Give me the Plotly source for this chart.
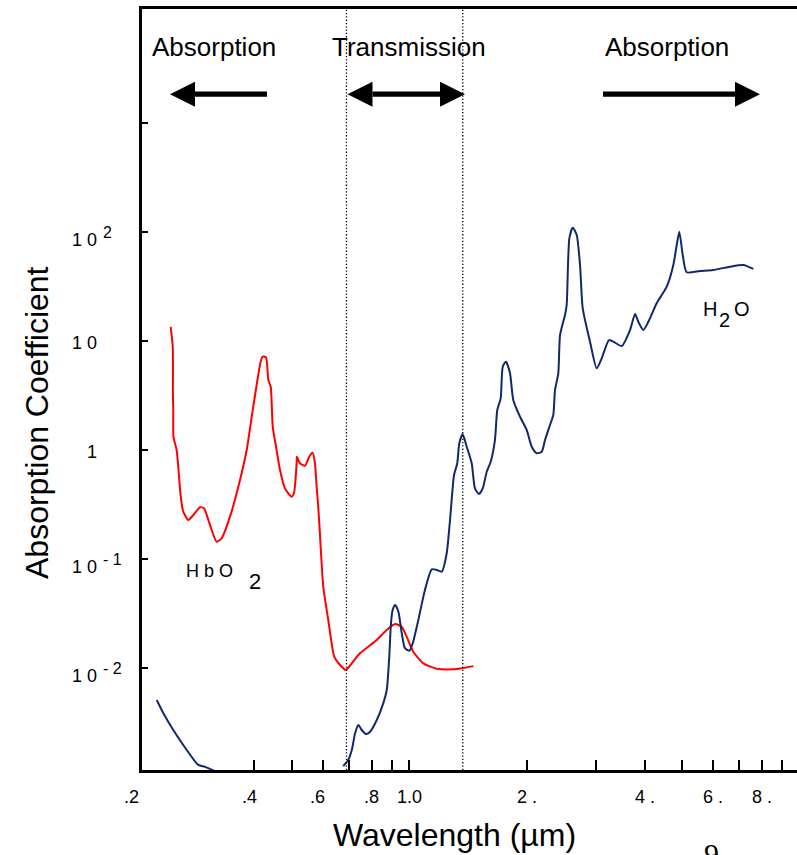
import numpy as np
import plotly.graph_objects as go

# ---------------- data ----------------
hbo2_wavelength = [0.2447, 0.2477, 0.248, 0.2485, 0.2488, 0.2535, 0.2559, 0.2597, 0.2636, 0.2715,
                   0.2797, 0.2910, 0.2979, 0.3055, 0.3117, 0.3210, 0.3306, 0.3472, 0.3683, 0.3831,
                   0.3982, 0.4160, 0.4210, 0.4293, 0.4352, 0.4414, 0.4467, 0.4555, 0.4663, 0.4801,
                   0.4994, 0.5062, 0.5143, 0.5150, 0.5244, 0.5402, 0.5540, 0.5652, 0.5730, 0.5787,
                   0.5842, 0.5902, 0.6018, 0.6198, 0.6421, 0.6641, 0.6882, 0.7117, 0.7474, 0.8246,
                   0.8747, 0.9186, 0.9556, 0.984, 1.023, 1.085, 1.175, 1.296, 1.361, 1.458]
hbo2_absorption = [13.5, 8.87, 3.1, 2.33, 1.32, 1.0, 0.703, 0.373, 0.272, 0.228,
                   0.253, 0.298, 0.292, 0.228, 0.1845, 0.144, 0.155, 0.2445, 0.531, 1.0,
                   2.50, 6.46, 7.18, 7.09, 4.39, 3.81, 1.64, 1.07, 0.656, 0.445,
                   0.373, 0.401, 0.755, 0.868, 0.755, 0.718, 0.868, 0.944, 0.755, 0.461,
                   0.302, 0.166, 0.0557, 0.0275, 0.0127, 0.01066, 0.0096, 0.01104, 0.01364, 0.01807,
                   0.0223, 0.0253, 0.0239, 0.0194, 0.0141, 0.01104, 0.00986, 0.00973, 0.00994, 0.0104]

water_uv_wavelength = [0.2254, 0.2344, 0.2485, 0.2690, 0.2880, 0.2996, 0.3178]
water_uv_absorption = [0.00508, 0.00384, 0.0027, 0.00177, 0.00129, 0.00124, 0.00113]

water_wavelength = [0.677, 0.697, 0.712, 0.726, 0.740, 0.755, 0.774, 0.793, 0.825, 0.857,
                    0.875, 0.888, 0.897, 0.906, 0.919, 0.937, 0.956, 0.974, 1.0, 1.020,
                    1.054, 1.096, 1.141, 1.175, 1.210, 1.246, 1.270, 1.301, 1.326, 1.342,
                    1.369, 1.402, 1.444, 1.472, 1.507, 1.541, 1.578, 1.615, 1.656, 1.679,
                    1.713, 1.734, 1.768, 1.810, 1.845, 1.920, 1.997, 2.057, 2.118, 2.182,
                    2.225, 2.291, 2.336, 2.360, 2.406, 2.431, 2.503, 2.528, 2.568, 2.620,
                    2.682, 2.735, 2.779, 2.901, 3.017, 3.108, 3.245, 3.362, 3.498, 3.673,
                    3.783, 3.857, 3.972, 4.091, 4.298, 4.560, 4.741, 4.837, 4.912, 5.011,
                    5.130, 5.549, 6.001, 6.622, 7.164, 7.598]
water_absorption = [0.00126, 0.00143, 0.00177, 0.00252, 0.0030, 0.0027, 0.00248, 0.0026, 0.00333, 0.00474,
                    0.00628, 0.0127, 0.0257, 0.0340, 0.0379, 0.0329, 0.0208, 0.0152, 0.0144, 0.0169,
                    0.0275, 0.0520, 0.0804, 0.0793, 0.0764, 0.113, 0.223, 0.590, 0.755, 1.152,
                    1.393, 1.072, 0.755, 0.445, 0.395, 0.445, 0.632, 0.781, 1.235, 2.33,
                    2.98, 5.81, 6.46, 5.05, 2.88, 2.02, 1.526, 1.072, 0.933, 0.965,
                    1.235, 1.696, 2.094, 3.55, 5.05, 11.35, 17.3, 21.4, 87.5, 109.5,
                    93.8, 49.8, 19.95, 9.85, 5.62, 6.94, 10.2, 9.65, 9.0, 12.6,
                    17.7, 15.0, 12.6, 15.0, 22.2, 31.5, 49.8, 76.0, 100.7, 61.5,
                    42.7, 43.9, 44.8, 48.1, 49.8, 45.8]

transmission_window = [0.69, 1.37]

x_tick_marks = [0.4, 0.5, 0.6, 0.7, 0.8, 0.9, 1, 2, 3, 4, 5, 6, 7, 8, 9]
x_label_values = [0.2, 0.4, 0.6, 0.8, 1.0, 2, 4, 6, 8]
x_label_texts = [".2", ".4", ".6", ".8", "1.0", "2 .", "4 .", "6 .", "8 ."]

y_tick_marks = [1e-2, 1e-1, 1, 10, 100, 1000]
y_label_values = [100, 10, 1, 0.1, 0.01]
y_label_mantissa = ["1 0", "1 0", "1", "1 0", "1 0"]
y_label_exponent = ["2", "", "", "- 1", "- 2"]

# ---------------- geometry helpers ----------------
W, H = 797, 855
L, R, T, B = 142, 797, 9, 770
X_LEFT = (L - 409.4) / 390.5     # log10 of wavelength at the left edge
X_RIGHT = (R - 409.4) / 390.5
Y_BOTTOM = (450 - B) / 109
Y_TOP = (450 - T) / 109


def px(x):
    return (x - L) / (R - L)


def py(y):
    return (B - y) / (B - T)


def xpaper(v):
    return (np.log10(v) - X_LEFT) / (X_RIGHT - X_LEFT)


def ypaper(v):
    return (np.log10(v) - Y_BOTTOM) / (Y_TOP - Y_BOTTOM)


PXX = 1 / (R - L)
PXY = 1 / (B - T)

FONT = "Liberation Sans, Arial, sans-serif"
RED = "#ff0000"
NAVY = "#0f2a6b"

line_common = dict(width=2, shape="spline", smoothing=0.6)

fig = go.Figure()
fig.add_trace(go.Scatter(x=hbo2_wavelength, y=hbo2_absorption, mode="lines",
                         line=dict(color=RED, **line_common), showlegend=False))
fig.add_trace(go.Scatter(x=water_uv_wavelength, y=water_uv_absorption, mode="lines",
                         line=dict(color=NAVY, **line_common), showlegend=False))
fig.add_trace(go.Scatter(x=water_wavelength, y=water_absorption, mode="lines",
                         line=dict(color=NAVY, **line_common), showlegend=False))

shapes = []
for xv in transmission_window:
    shapes.append(dict(type="line", xref="x", yref="paper", x0=xv, x1=xv, y0=0, y1=1.004,
                       line=dict(color="black", width=1.3, dash="1.3px,2px")))


def arrow(x_tail, x_tip, yc=94.2, head_len=25, head_half=12.5, shaft_half=2.6, both=False):
    out = []
    d = 1 if x_tip > x_tail else -1
    s0 = x_tail + (d * head_len if both else 0)
    s1 = x_tip - d * head_len
    out.append(dict(type="rect", xref="paper", yref="paper",
                    x0=px(min(s0, s1)), x1=px(max(s0, s1)),
                    y0=py(yc + shaft_half), y1=py(yc - shaft_half),
                    fillcolor="black", line=dict(width=0)))
    tips = [(x_tip, d)] + ([(x_tail, -d)] if both else [])
    for tip, dd in tips:
        base = tip - dd * head_len
        path = (f"M {px(tip)},{py(yc)} L {px(base)},{py(yc - head_half)} "
                f"L {px(base)},{py(yc + head_half)} Z")
        out.append(dict(type="path", xref="paper", yref="paper", path=path,
                        fillcolor="black", line=dict(width=0)))
    return out


shapes += arrow(267, 170)
shapes += arrow(347.5, 465, both=True)
shapes += arrow(603, 760)


def note(text, x, y, size, xanchor="center", yanchor="middle", family=FONT, angle=0):
    return dict(text=text, xref="paper", yref="paper", x=x, y=y, textangle=angle,
                xanchor=xanchor, yanchor=yanchor, showarrow=False,
                font=dict(family=family, size=size, color="black"))


annotations = []
for txt, xc in [("Absorption", 214), ("Transmission", 408.5), ("Absorption", 667)]:
    annotations.append(note(txt, px(xc), py(47), 26))

# x tick labels
for v, t in zip(x_label_values, x_label_texts):
    shift = -5 if v < 0.7 else 0
    annotations.append(note(t, xpaper(v) + shift * PXX, py(797), 18))

# y tick labels: mantissa sits slightly below the tick, exponent raised beside it
for v, m, e in zip(y_label_values, y_label_mantissa, y_label_exponent):
    yc = ypaper(v)
    if e:
        annotations.append(note(m, px(99), yc - 8 * PXY, 18, xanchor="right"))
        annotations.append(note(e, px(101), yc, 16, xanchor="left"))
    else:
        annotations.append(note(m, px(99), yc - 2 * PXY, 18, xanchor="right"))

# axis titles
annotations.append(note("Absorption Coefficient", px(37), py(423), 32, angle=-90))
annotations.append(note("Wavelength (µm)", px(454), py(835), 32))

# curve labels
annotations.append(note("H b O", px(184), py(571), 18, xanchor="left"))
annotations.append(note("2", px(247), py(581), 22, xanchor="left"))
annotations.append(note("H", px(701), py(309), 20, xanchor="left"))
annotations.append(note("2", px(717), py(320), 20, xanchor="left"))
annotations.append(note("O", px(732), py(309), 20, xanchor="left"))

# cut-off page number at the bottom edge
annotations.append(note("9", px(711), py(835), 30, yanchor="top",
                        family="Liberation Serif, Times New Roman, serif"))

fig.update_layout(
    width=W, height=H,
    margin=dict(l=L, r=W - R, t=T, b=H - B, pad=0),
    paper_bgcolor="white", plot_bgcolor="white",
    shapes=shapes, annotations=annotations,
    xaxis=dict(type="log", range=[X_LEFT, X_RIGHT], showgrid=False, zeroline=False,
               showline=True, linecolor="black", linewidth=2.5, mirror=True,
               ticks="inside", ticklen=10, tickwidth=2, tickcolor="black",
               tickvals=x_tick_marks, showticklabels=False),
    yaxis=dict(type="log", range=[Y_BOTTOM, Y_TOP], showgrid=False, zeroline=False,
               showline=True, linecolor="black", linewidth=2.5,
               ticks="inside", ticklen=6, tickwidth=1.5, tickcolor="black",
               tickvals=y_tick_marks, showticklabels=False),
)

fig.write_html("out.html")
